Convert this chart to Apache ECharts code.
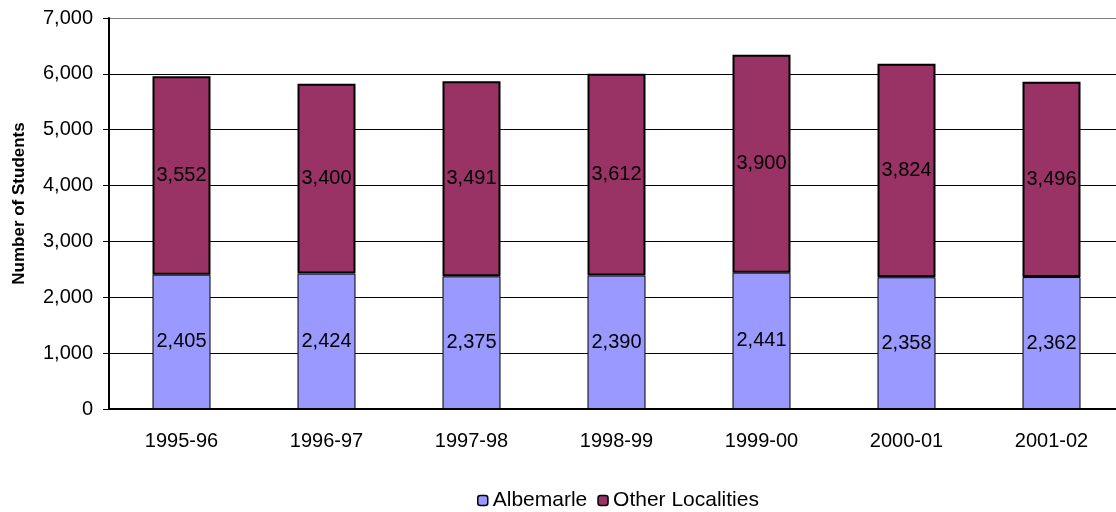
<!DOCTYPE html>
<html><head><meta charset="utf-8">
<script src="https://cdn.jsdelivr.net/npm/echarts@6/dist/echarts.min.js"></script>
<style>html,body{margin:0;padding:0;background:#fff}#c{width:1116px;height:512px}</style>
</head><body><div id="c"></div>
<script>
const categories = ["1995-96","1996-97","1997-98","1998-99","1999-00","2000-01","2001-02"];
const albemarle = [2405,2424,2375,2390,2441,2358,2362];
const otherLocalities = [3552,3400,3491,3612,3900,3824,3496];
const yTicks = [0,1000,2000,3000,4000,5000,6000,7000];

const fmt = v => v.toLocaleString('en-US');
const font = "'Liberation Sans', Arial, sans-serif";
const chart = echarts.init(document.getElementById('c'), null, {renderer:'canvas'});
chart.setOption({
  animation:false,
  textStyle:{fontFamily:font},
  grid:{left:109,width:1015,top:18,bottom:103,outerBoundsMode:'none',containLabel:false},
  legend:{
    top:485,left:472,itemWidth:10,itemHeight:10,itemGap:10,
    textStyle:{fontSize:21,color:'#000',fontFamily:font},
    data:[
      {name:'Albemarle',itemStyle:{color:'#9999FF',borderColor:'#000',borderWidth:1.5}},
      {name:'Other Localities',itemStyle:{color:'#993366',borderColor:'#000',borderWidth:1.5}}
    ]
  },
  xAxis:{
    type:'category',data:categories,
    axisLine:{lineStyle:{color:'#000',width:2}},
    axisTick:{show:false},
    axisLabel:{fontSize:20,color:'#000',margin:22,fontFamily:font}
  },
  yAxis:{
    type:'value',min:yTicks[0],max:yTicks[yTicks.length-1],interval:1000,
    name:'Number of Students',nameLocation:'middle',nameGap:81,
    nameTextStyle:{fontSize:17,fontWeight:'bold',color:'#000',fontFamily:font,padding:[0,0,0,20]},
    axisLine:{show:true,lineStyle:{color:'#000',width:2}},
    axisTick:{show:true,length:6,lineStyle:{color:'#000'}},
    axisLabel:{fontSize:20,color:'#000',margin:16,formatter:v=>fmt(v),fontFamily:font},
    splitLine:{lineStyle:{color:['#000','#000','#000','#000','#000','#000','#000','#808080'],width:1}}
  },
  series:[
    {name:'Albemarle',type:'bar',stack:'s',data:albemarle,barWidth:58,
     itemStyle:{color:'#9999FF',borderColor:'#000',borderWidth:1},
     label:{show:true,position:'inside',fontSize:20,color:'#000',formatter:p=>fmt(p.value),fontFamily:font}},
    {name:'Other Localities',type:'bar',stack:'s',data:otherLocalities,barWidth:58,
     itemStyle:{color:'#993366',borderColor:'#000',borderWidth:2},
     label:{show:true,position:'inside',fontSize:20,color:'#000',formatter:p=>fmt(p.value),fontFamily:font}}
  ]
});
</script></body></html>
